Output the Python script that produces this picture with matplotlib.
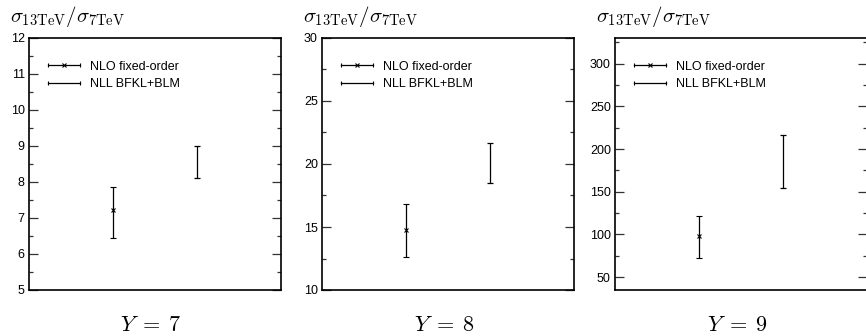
import matplotlib
matplotlib.use("Agg")
import matplotlib.pyplot as plt
from matplotlib.lines import Line2D
from matplotlib.legend_handler import HandlerLine2D, HandlerTuple
from matplotlib.ticker import MultipleLocator

plt.rcParams["mathtext.fontset"] = "cm"
plt.rcParams["font.family"] = ["Liberation Sans", "DejaVu Sans"]

# Dane: rapidity Y, NLO (centr, dół, góra), BLM (dół, góra)
rapidities = [7, 8, 9]
nlo_central = [7.22, 14.8, 98.0]
nlo_low = [6.45, 12.65, 73.0]
nlo_high = [7.85, 16.8, 122.0]
blm_low = [8.1, 18.5, 154.0]
blm_high = [9.0, 21.7, 216.0]

y_limits = [(5, 12), (10, 30), (35, 330)]
y_major = [1, 5, 50]
y_minor = [0.5, 2.5, 25]

fig = plt.figure(figsize=(8.66, 3.36), dpi=100)
W, H = 866.0, 336.0
lefts = [29, 322, 615]
width = 252
bottom, top = 290, 38

for i, Y in enumerate(rapidities):
    ax = fig.add_axes([lefts[i] / W, 1 - bottom / H, width / W, (bottom - top) / H])

    c = nlo_central[i]
    ax.errorbar([1], [c], yerr=[[c - nlo_low[i]], [nlo_high[i] - c]],
                fmt="x", color="black", ms=3.5, mew=0.8, elinewidth=0.9,
                capsize=2, capthick=0.9)
    mid = (blm_low[i] + blm_high[i]) / 2
    half = (blm_high[i] - blm_low[i]) / 2
    ax.errorbar([2], [mid], yerr=[[half], [half]], fmt="none",
                color="black", elinewidth=0.9, capsize=2, capthick=0.9)

    ax.set_xlim(0, 3)
    ax.set_ylim(*y_limits[i])
    ax.set_xticks([])
    ax.yaxis.set_major_locator(MultipleLocator(y_major[i]))
    ax.yaxis.set_minor_locator(MultipleLocator(y_minor[i]))
    ax.tick_params(axis="y", which="both", direction="in", left=True, right=True,
                   labelsize=9, pad=3, width=0.9, color="#333333")
    ax.tick_params(axis="y", which="major", length=6.5)
    ax.tick_params(axis="y", which="minor", length=3)
    for sp in ax.spines.values():
        sp.set_linewidth(1.2)

    # legenda w stylu gnuplot
    bar1 = Line2D([], [], color="black", lw=0.9, marker="|", ms=3, mew=0.8)
    cross = Line2D([], [], color="black", lw=0, marker="x", ms=2.5, mew=0.8)
    bar2 = Line2D([], [], color="black", lw=0.9, marker="|", ms=3, mew=0.8)
    leg = ax.legend([(bar1, cross), bar2], ["NLO fixed-order", "NLL BFKL+BLM"],
                    handler_map={tuple: HandlerTuple(ndivide=1),
                                 bar1: HandlerLine2D(numpoints=2),
                                 bar2: HandlerLine2D(numpoints=2),
                                 cross: HandlerLine2D(numpoints=1)},
                    loc="upper left", bbox_to_anchor=(0.06, 0.91),
                    frameon=False, fontsize=9, handlelength=3.2,
                    handletextpad=0.45, labelspacing=0.45, borderaxespad=0,
                    borderpad=0)

    ax.text(-0.075, 1.085, r"$\sigma_{13\mathrm{TeV}}/\sigma_{7\mathrm{TeV}}$",
            transform=ax.transAxes, fontsize=15, ha="left", va="center")
    ax.text(0.485, -0.14, r"$Y\;=\;%d$" % Y, transform=ax.transAxes,
            fontsize=16, ha="center", va="center")

fig.savefig("out.png", dpi=100)
